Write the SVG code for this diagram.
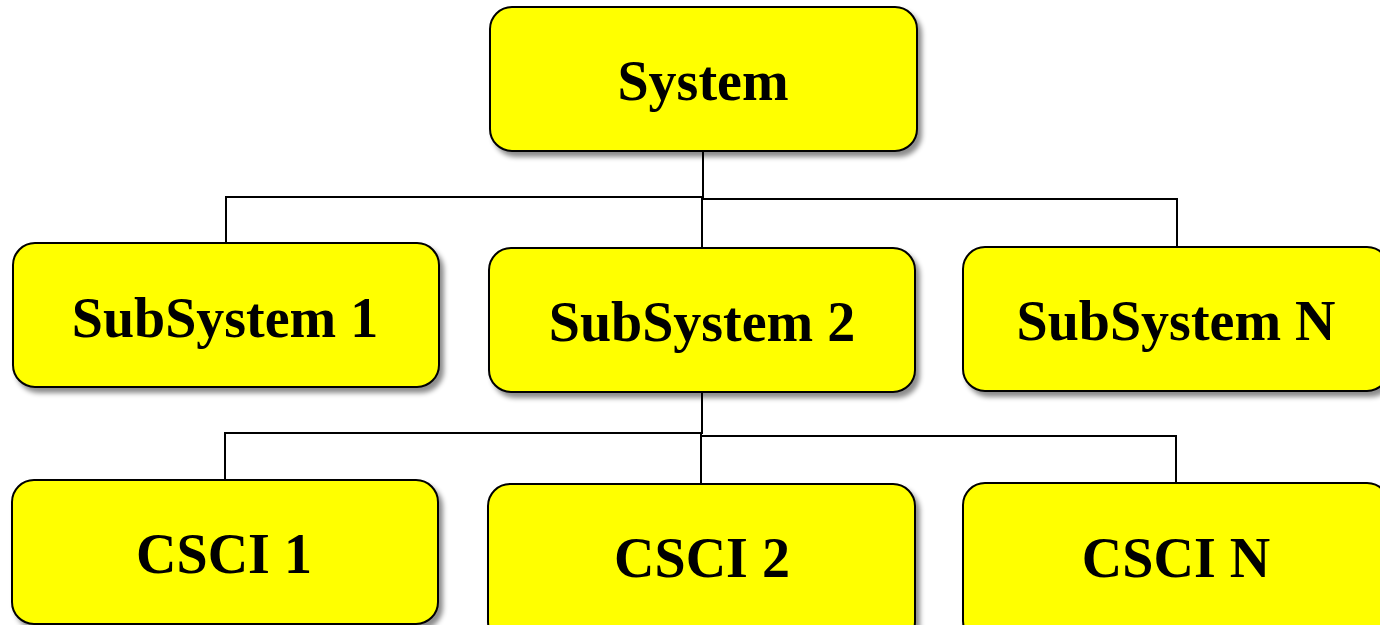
<svg xmlns="http://www.w3.org/2000/svg" width="1380" height="625" viewBox="0 0 1380 625">
  <defs>
    <filter id="shadow" x="-10%" y="-10%" width="125%" height="135%">
      <feDropShadow dx="4" dy="5" stdDeviation="2.5" flood-color="#000" flood-opacity="0.45"/>
    </filter>
  </defs>
  <style>
    .box { fill: #ffff00; stroke: #000; stroke-width: 2; filter: url(#shadow); }
    .label { font-family: "Liberation Serif", "Times New Roman", serif; font-weight: bold; font-size: 56px; fill: #000; text-anchor: middle; }
    .wire { fill: none; stroke: #000; stroke-width: 2; }
  </style>

  <rect width="1380" height="625" fill="#fff"/>

  <!-- connectors -->
  <g id="connectors">
    <path class="wire" d="M703 151 V198"/>
    <path class="wire" d="M226 243 V197 H703"/>
    <path class="wire" d="M703 199 H1177 V247"/>
    <path class="wire" d="M702 197 V248"/>
    <path class="wire" d="M702 392 V434"/>
    <path class="wire" d="M225 480 V433 H702"/>
    <path class="wire" d="M702 436 H1176 V483"/>
    <path class="wire" d="M701 433 V484"/>
  </g>

  <!-- top level -->
  <g id="system">
    <rect class="box" x="490" y="7" width="427" height="144" rx="22"/>
    <text class="label" x="703" y="100">System</text>
  </g>

  <!-- subsystems -->
  <g id="subsystem-1">
    <rect class="box" x="13" y="243" width="426" height="144" rx="22"/>
    <text class="label" x="225" y="337">SubSystem 1</text>
  </g>
  <g id="subsystem-2">
    <rect class="box" x="489" y="248" width="426" height="144" rx="22"/>
    <text class="label" x="702" y="341">SubSystem 2</text>
  </g>
  <g id="subsystem-n">
    <rect class="box" x="963" y="247" width="426" height="144" rx="22"/>
    <text class="label" x="1176" y="340">SubSystem N</text>
  </g>

  <!-- configuration items -->
  <g id="csci-1">
    <rect class="box" x="12" y="480" width="426" height="144" rx="22"/>
    <text class="label" x="224" y="573">CSCI 1</text>
  </g>
  <g id="csci-2">
    <rect class="box" x="488" y="484" width="427" height="160" rx="22"/>
    <text class="label" x="702" y="577">CSCI 2</text>
  </g>
  <g id="csci-n">
    <rect class="box" x="963" y="483" width="426" height="160" rx="22"/>
    <text class="label" x="1176" y="577">CSCI N</text>
  </g>
</svg>
